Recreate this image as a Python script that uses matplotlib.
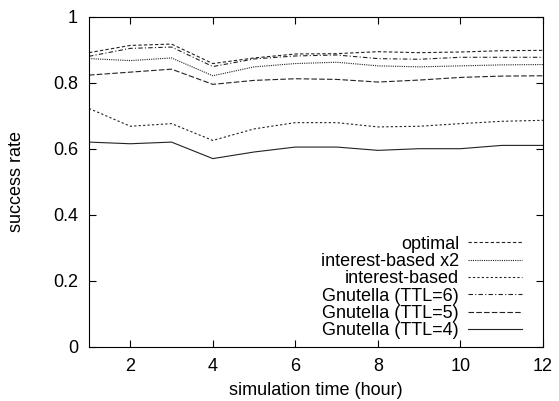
import matplotlib
matplotlib.use("Agg")
import matplotlib.pyplot as plt

hours = [1, 2, 3, 4, 5, 6, 7, 8, 9, 10, 11, 12]

optimal = [0.891, 0.913, 0.917, 0.858, 0.875, 0.887, 0.888, 0.894, 0.891, 0.893, 0.897, 0.898]
interest_x2 = [0.873, 0.867, 0.875, 0.821, 0.848, 0.858, 0.862, 0.851, 0.848, 0.851, 0.854, 0.855]
interest = [0.722, 0.668, 0.676, 0.625, 0.660, 0.679, 0.679, 0.666, 0.668, 0.676, 0.683, 0.686]
ttl6 = [0.880, 0.904, 0.908, 0.849, 0.872, 0.881, 0.884, 0.873, 0.871, 0.877, 0.877, 0.877]
ttl5 = [0.823, 0.832, 0.841, 0.795, 0.807, 0.812, 0.810, 0.802, 0.808, 0.816, 0.820, 0.821]
ttl4 = [0.620, 0.615, 0.620, 0.570, 0.590, 0.605, 0.605, 0.595, 0.600, 0.600, 0.610, 0.610]

labels = ["optimal", "interest-based x2", "interest-based",
          "Gnutella (TTL=6)", "Gnutella (TTL=5)", "Gnutella (TTL=4)"]

plt.rcParams['font.family'] = ['Liberation Sans', 'DejaVu Sans']

fig = plt.figure(figsize=(5.59, 4.01), dpi=100)
ax = fig.add_axes([89 / 559, 1 - 346.7 / 401, 454 / 559, 330 / 401])

lw = 0.8
col = "#222222"
ax.plot(hours, optimal, color=col, lw=lw, dashes=(3, 2), label=labels[0])
ax.plot(hours, interest_x2, color=col, lw=lw, dashes=(1, 1), label=labels[1])
ax.plot(hours, interest, color=col, lw=lw, dashes=(2, 2), label=labels[2])
ax.plot(hours, ttl6, color=col, lw=lw, dashes=(4, 2, 1, 2), label=labels[3])
ax.plot(hours, ttl5, color=col, lw=lw, dashes=(5, 2), label=labels[4])
ax.plot(hours, ttl4, color=col, lw=lw, label=labels[5])

ax.set_xlim(1, 12)
ax.set_ylim(0, 1)
ax.set_xticks([2, 4, 6, 8, 10, 12])
ax.set_yticks([0, 0.2, 0.4, 0.6, 0.8, 1])
ax.set_yticklabels(["0", "0.2", "0.4", "0.6", "0.8", "1"])
ax.tick_params(direction="in", top=True, right=True, labelsize=13, length=5, width=0.8, pad=8)
for s in ax.spines.values():
    s.set_linewidth(0.8)

ax.set_xlabel("simulation time (hour)", fontsize=13, labelpad=5)
ax.set_ylabel("success rate", fontsize=13, labelpad=20)

ax.legend(loc="lower right", frameon=False, markerfirst=False, fontsize=13,
          handlelength=3.0, labelspacing=0.02, handletextpad=0.5,
          bbox_to_anchor=(0.99, -0.027))

fig.savefig("out.png", dpi=100)
